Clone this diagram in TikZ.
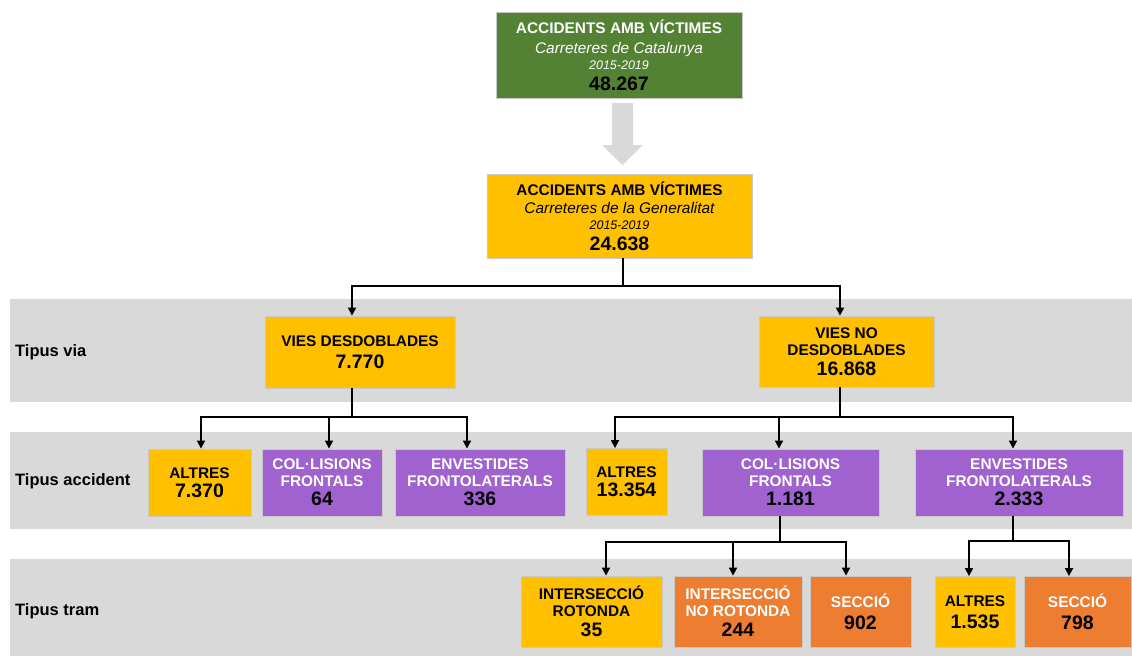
\documentclass[tikz,border=0pt]{standalone}
\usepackage{fontspec}
\setmainfont{Liberation Sans}
\usetikzlibrary{arrows.meta}
\definecolor{bandgray}{HTML}{D9D9D9}
\definecolor{dgreen}{HTML}{548235}
\definecolor{ygold}{HTML}{FFC000}
\definecolor{purp}{HTML}{A062CF}
\definecolor{oran}{HTML}{ED7D31}
\definecolor{boxline}{HTML}{C9C9C9}
\tikzset{
  band/.style={fill=bandgray, draw=none},
  bx/.style={draw=boxline, line width=0.8pt, inner sep=0pt, align=center,
    font=\fontsize{15.4}{17}\selectfont\bfseries},
  ybox/.style={bx, fill=ygold, text=black},
  pbox/.style={bx, fill=purp, text=white},
  obox/.style={bx, fill=oran, text=white},
  gbox/.style={bx, fill=dgreen, text=white},
  rowlab/.style={anchor=west, inner sep=0pt, font=\fontsize{16.5}{18}\selectfont\bfseries},
  conn/.style={line width=1.7pt, black},
  arr/.style={conn, -{Triangle[length=8pt,width=8pt]}},
}
\newcommand{\numtxt}[1]{{\color{black}\fontsize{19.5}{19.5}\selectfont\bfseries #1}}
\begin{document}
\begin{tikzpicture}[x=1pt,y=-1pt]
\useasboundingbox (0,0) rectangle (1132,656);
\fill[white] (0,0) rectangle (1132,656);
% bands
\fill[band] (10,299) rectangle (1132,402);
\fill[band] (10,432) rectangle (1132,529);
\fill[band] (10,559) rectangle (1132,656);
\node[rowlab] (lvia) at (15,352) {Tipus via};
\node[rowlab] (lacc) at (15,481) {Tipus accident};
\node[rowlab] (ltram) at (15,611) {Tipus tram};
% top boxes
\node[gbox, minimum width=246pt, minimum height=86pt] (top) at (619,55)
  {ACCIDENTS AMB VÍCTIMES\\[3pt]
   {\mdseries\itshape Carreteres de Catalunya}\\[-1pt]
   {\mdseries\itshape\fontsize{12.5}{14}\selectfont 2015-2019}\\[4pt]
   \numtxt{48.267}};
\node[ybox, minimum width=265pt, minimum height=84pt] (gen) at (619.5,216)
  {ACCIDENTS AMB VÍCTIMES\\[1pt]
   {\mdseries\itshape Carreteres de la Generalitat}\\[-1pt]
   {\mdseries\itshape\fontsize{12.5}{14}\selectfont 2015-2019}\\[4pt]
   \numtxt{24.638}};
% big gray arrow
\fill[bandgray] (612,103) -- (633,103) -- (633,145) -- (643,145) -- (622.5,165)
  -- (602,145) -- (612,145) -- cycle;
% row 1
\node[ybox, minimum width=190pt, minimum height=72pt] (vd) at (360,352)
  {VIES DESDOBLADES\\[5pt]\numtxt{7.770}};
\node[ybox, minimum width=175pt, minimum height=71pt] (vnd) at (846.5,351.5)
  {VIES NO\\DESDOBLADES\\[3pt]\numtxt{16.868}};
% row 2
\node[ybox, minimum width=103pt, minimum height=67pt] (alt1) at (199.5,482.5)
  {ALTRES\\[2pt]\numtxt{7.370}};
\node[pbox, minimum width=120pt, minimum height=67pt] (col1) at (322,482.5)
  {COL·LISIONS\\FRONTALS\\[2pt]\numtxt{64}};
\node[pbox, minimum width=170pt, minimum height=67pt] (env1) at (480,482.5)
  {ENVESTIDES\\FRONTOLATERALS\\[2pt]\numtxt{336}};
\node[ybox, minimum width=81pt, minimum height=67pt] (alt2) at (626.5,482)
  {ALTRES\\[2pt]\numtxt{13.354}};
\node[pbox, minimum width=177pt, minimum height=67pt] (col2) at (790.5,482.5)
  {COL·LISIONS\\FRONTALS\\[2pt]\numtxt{1.181}};
\node[pbox, minimum width=208pt, minimum height=67pt] (env2) at (1019,482.5)
  {ENVESTIDES\\FRONTOLATERALS\\[2pt]\numtxt{2.333}};
% row 3
\node[ybox, minimum width=141pt, minimum height=71pt] (irot) at (591.5,611.5)
  {INTERSECCIÓ\\ROTONDA\\[3pt]\numtxt{35}};
\node[obox, minimum width=128pt, minimum height=71pt] (inrot) at (738,611.5)
  {INTERSECCIÓ\\NO ROTONDA\\[3pt]\numtxt{244}};
\node[obox, minimum width=101pt, minimum height=71pt] (sec1) at (860.5,611.5)
  {SECCIÓ\\[5pt]\numtxt{902}};
\node[ybox, minimum width=80pt, minimum height=71pt] (alt3) at (975,612)
  {ALTRES\\[5pt]\numtxt{1.535}};
\node[obox, minimum width=107pt, minimum height=71pt] (sec2) at (1077.5,612)
  {SECCIÓ\\[5pt]\numtxt{798}};
% connectors
\coordinate (j0) at (623,286);
\draw[conn] ([xshift=3.5pt]gen.south) -- (j0);
\draw[arr] (j0) -| ([xshift=-8pt]vd.north);
\draw[arr] (j0) -| ([xshift=-6.5pt]vnd.north);
\coordinate (j1) at (352,417);
\draw[conn] ([xshift=-8pt]vd.south) -- (j1);
\draw[arr] (j1) -| ([xshift=1.5pt]alt1.north);
\draw[arr] (j1) -| ([xshift=7pt]col1.north);
\draw[arr] (j1) -| ([xshift=-13pt]env1.north);
\coordinate (j2) at (840,417);
\draw[conn] ([xshift=-6.5pt]vnd.south) -- (j2);
\draw[arr] (j2) -| ([xshift=-11.5pt]alt2.north);
\draw[arr] (j2) -| ([xshift=-11.5pt]col2.north);
\draw[arr] (j2) -| ([xshift=-6pt]env2.north);
\coordinate (j3) at (780,542);
\draw[conn] ([xshift=-10.5pt]col2.south) -- (j3);
\draw[arr] (j3) -| ([xshift=14.5pt]irot.north);
\draw[arr] (j3) -| ([xshift=-5pt]inrot.north);
\draw[arr] (j3) -| ([xshift=-14.5pt]sec1.north);
\coordinate (j4) at (1013,541);
\draw[conn] ([xshift=-6pt]env2.south) -- (j4);
\draw[arr] (j4) -| ([xshift=-6pt]alt3.north);
\draw[arr] (j4) -| ([xshift=-8.5pt]sec2.north);
\end{tikzpicture}
\end{document}
